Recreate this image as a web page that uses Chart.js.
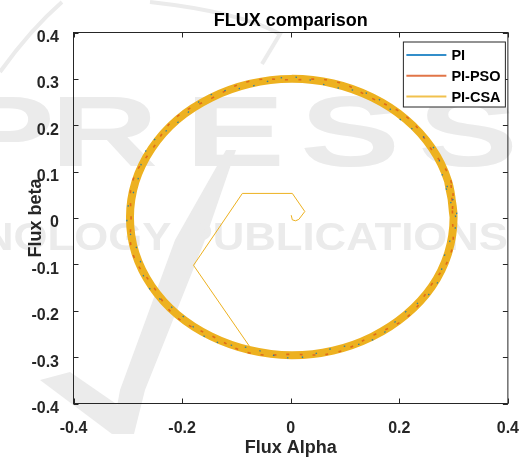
<!DOCTYPE html>
<html>
<head>
<meta charset="utf-8">
<script src="https://cdn.jsdelivr.net/npm/chart.js@4/dist/chart.umd.min.js"></script>
<style>
  html, body { margin: 0; padding: 0; background: #ffffff; }
  #wrap { width: 526px; height: 457px; position: relative; }
</style>
</head>
<body>
<div id="wrap"><canvas id="c" width="526" height="457"></canvas></div>
<script>
// Series names and colours
const seriesNames = ['PI', 'PI-PSO', 'PI-CSA'];
const seriesColors = ['#0072BD', '#D95319', '#EDB120'];
const chartTitle = 'FLUX comparison';

// Axis ticks
const xTickValues = [-0.4, -0.2, 0, 0.2, 0.4];
const xTickLabels = ['-0.4', '-0.2', '0', '0.2', '0.4'];
const yTickValues = [-0.4, -0.3, -0.2, -0.1, 0, 0.1, 0.2, 0.3, 0.4];
const yTickLabels = ['-0.4', '-0.3', '-0.2', '-0.1', '0', '0.1', '0.2', '0.3', '0.4'];

// Steady-state flux orbit, PI controller (wanders across the band)
const piAlpha = [0.304, 0.283, 0.263, 0.207, 0.152, 0.076, 0.001, -0.076, -0.152, -0.207, -0.263, -0.283, -0.302,
                 -0.281, -0.261, -0.205, -0.150, -0.074, 0.002, 0.078, 0.154, 0.209, 0.265, 0.285, 0.306, 0.285];
const piBeta  = [0.002, 0.076, 0.152, 0.207, 0.263, 0.283, 0.304, 0.283, 0.263, 0.207, 0.152, 0.076, 0.001,
                 -0.074, -0.150, -0.205, -0.261, -0.281, -0.302, -0.281, -0.261, -0.205, -0.150, -0.074, 0.002, 0.078];

// Steady-state flux orbit, PI-PSO controller
const psoAlpha = [0.298, 0.295, 0.258, 0.216, 0.150, 0.080, 0.002, -0.076, -0.146, -0.212, -0.254, -0.291, -0.294,
                  -0.291, -0.254, -0.212, -0.146, -0.076, 0.002, 0.080, 0.150, 0.216, 0.258, 0.295, 0.298, 0.295];
const psoBeta  = [0.002, 0.080, 0.150, 0.216, 0.258, 0.295, 0.298, 0.295, 0.258, 0.216, 0.150, 0.080, 0.002,
                  -0.076, -0.146, -0.212, -0.254, -0.291, -0.294, -0.291, -0.254, -0.212, -0.146, -0.076, 0.002, 0.080];

// Steady-state flux orbit, PI-CSA controller
const csaAlpha = [0.300, 0.290, 0.260, 0.212, 0.150, 0.078, 0.001, -0.076, -0.147, -0.209, -0.256, -0.286, -0.296,
                  -0.286, -0.256, -0.209, -0.147, -0.075, 0.001, 0.078, 0.150, 0.212, 0.260, 0.290, 0.300, 0.290];
const csaBeta  = [0.002, 0.079, 0.151, 0.213, 0.260, 0.290, 0.300, 0.289, 0.259, 0.212, 0.150, 0.078, 0.001,
                  -0.076, -0.147, -0.208, -0.255, -0.285, -0.296, -0.286, -0.256, -0.209, -0.148, -0.076, 0.002, 0.079];

// Start-up transient of the PI-CSA flux, from the origin to the orbit
const csaStartAlpha = [0.001, 0.003, 0.009, 0.015, 0.026, 0.003, -0.089, -0.179, -0.071];
const csaStartBeta  = [0.006, -0.004, -0.006, -0.003, 0.014, 0.053, 0.053, -0.102, -0.285];

const toPoints = (xs, ys) => xs.map((x, i) => ({ x: x, y: ys[i] }));

const FONT = '"Liberation Sans", Arial, Helvetica, sans-serif';
const INK = '#262626';

// Faint publisher watermark behind the axes
const watermarkPlugin = {
  id: 'watermark',
  beforeDraw(chart) {
    const ctx = chart.ctx;
    ctx.save();
    ctx.fillStyle = '#ffffff';
    ctx.fillRect(0, 0, chart.width, chart.height);
    const grey = '#ebebeb';
    ctx.fillStyle = grey;
    ctx.strokeStyle = grey;
    // swoosh
    ctx.beginPath();
    ctx.moveTo(226, 150);
    ctx.lineTo(236, 150);
    ctx.lineTo(205, 240);
    ctx.lineTo(145, 390);
    ctx.lineTo(134, 434);
    ctx.lineTo(112, 434);
    ctx.lineTo(120, 390);
    ctx.lineTo(175, 240);
    ctx.closePath();
    ctx.fill();
    ctx.beginPath();
    ctx.moveTo(112, 434);
    ctx.lineTo(40, 380);
    ctx.lineTo(70, 372);
    ctx.lineTo(125, 410);
    ctx.closePath();
    ctx.fill();
    ctx.lineWidth = 4;
    ctx.beginPath();
    ctx.moveTo(0, 72);
    ctx.quadraticCurveTo(30, 30, 62, 2);
    ctx.stroke();
    ctx.beginPath();
    ctx.moveTo(150, 2);
    ctx.quadraticCurveTo(240, 12, 280, 34);
    ctx.lineTo(262, 64);
    ctx.stroke();
    // lettering
    ctx.textBaseline = 'alphabetic';
    ctx.font = 'bold 100px ' + FONT;
    const big = [['P', -45], ['R', 50], ['E', 185], ['S', 300], ['S', 418]];
    big.forEach(([ch, x]) => {
      ctx.save();
      ctx.translate(x, 166);
      ctx.scale(1.5, 1);
      ctx.fillText(ch, 0, 0);
      ctx.restore();
    });
    ctx.font = 'bold 38px ' + FONT;
    ctx.save();
    ctx.translate(508, 250);
    ctx.scale(1.15, 1);
    ctx.textAlign = 'right';
    ctx.fillText('TECHNOLOGY PUBLICATIONS', 0, 0);
    ctx.restore();
    ctx.restore();
  }
};

// Title centred over the axes
const titlePlugin = {
  id: 'axesTitle',
  afterDraw(chart) {
    const { ctx, chartArea: a } = chart;
    ctx.save();
    ctx.font = 'bold 18px ' + FONT;
    ctx.fillStyle = '#000000';
    ctx.textAlign = 'center';
    ctx.textBaseline = 'alphabetic';
    ctx.fillText(chartTitle, (a.left + a.right) / 2, 26);
    ctx.restore();
  }
};

// Axes box with inward tick marks
const boxPlugin = {
  id: 'axesBox',
  afterDatasetsDraw(chart) {
    const { ctx, chartArea: a, scales } = chart;
    ctx.save();
    ctx.strokeStyle = INK;
    ctx.lineWidth = 1;
    ctx.strokeRect(a.left, a.top, a.right - a.left, a.bottom - a.top);
    ctx.beginPath();
    const t = 5;
    scales.x.ticks.forEach(tk => {
      const px = Math.round(scales.x.getPixelForValue(tk.value)) + 0.5;
      ctx.moveTo(px, a.bottom); ctx.lineTo(px, a.bottom - t);
      ctx.moveTo(px, a.top); ctx.lineTo(px, a.top + t);
    });
    scales.y.ticks.forEach(tk => {
      const py = Math.round(scales.y.getPixelForValue(tk.value)) + 0.5;
      ctx.moveTo(a.left, py); ctx.lineTo(a.left + t, py);
      ctx.moveTo(a.right, py); ctx.lineTo(a.right - t, py);
    });
    ctx.stroke();
    ctx.restore();
  }
};

// Boxed legend in the upper right corner of the axes
const legendPlugin = {
  id: 'boxLegend',
  afterDraw(chart) {
    const { ctx, chartArea: a } = chart;
    const w = 102, h = 65;
    const x0 = a.right - 3 - w + 0.5, y0 = a.top + 9 + 0.5;
    ctx.save();
    ctx.fillStyle = '#ffffff';
    ctx.fillRect(x0, y0, w, h);
    ctx.strokeStyle = INK;
    ctx.lineWidth = 1;
    ctx.strokeRect(x0, y0, w, h);
    ctx.font = 'bold 14.5px ' + FONT;
    ctx.textBaseline = 'middle';
    seriesNames.forEach((name, i) => {
      const yy = y0 + 13 + i * 20.8;
      ctx.strokeStyle = seriesColors[i];
      ctx.globalAlpha = 0.8;
      ctx.lineWidth = 2;
      ctx.beginPath();
      ctx.moveTo(x0 + 3, yy); ctx.lineTo(x0 + 43, yy);
      ctx.stroke();
      ctx.globalAlpha = 1;
      ctx.fillStyle = '#000000';
      ctx.fillText(name, x0 + 48, yy + 1);
    });
    ctx.restore();
  }
};

const ringStyle = (color, width, dash, dashOffset) => ({
  showLine: true, pointRadius: 0, borderColor: color, backgroundColor: color,
  borderWidth: width, borderDash: dash, borderDashOffset: dashOffset,
  tension: 0.4, fill: false, borderCapStyle: 'butt'
});

new Chart(document.getElementById('c'), {
  type: 'scatter',
  data: {
    datasets: [
      Object.assign({ label: seriesNames[0], data: toPoints(piAlpha, piBeta), order: 1 },
                    ringStyle('rgba(0,114,189,0.8)', 1.3, [1.5, 13], 0)),
      Object.assign({ label: seriesNames[1], data: toPoints(psoAlpha, psoBeta), order: 2 },
                    ringStyle('rgba(217,83,25,0.75)', 1.6, [3, 10], 5)),
      Object.assign({ label: seriesNames[2], data: toPoints(csaAlpha, csaBeta), order: 3 },
                    ringStyle(seriesColors[2], 8, [], 0)),
      { label: seriesNames[2], data: toPoints(csaStartAlpha, csaStartBeta), order: 0,
        showLine: true, pointRadius: 0, borderColor: seriesColors[2], borderWidth: 1, tension: 0 }
    ]
  },
  options: {
    responsive: false,
    animation: false,
    devicePixelRatio: 1,
    layout: { padding: { top: 32.5, right: 15.5, bottom: 0, left: 0 } },
    plugins: {
      legend: { display: false },
      tooltip: { enabled: false },
      title: { display: false }
    },
    scales: {
      x: {
        type: 'linear', min: -0.4, max: 0.4,
        afterBuildTicks: s => { s.ticks = xTickValues.map(v => ({ value: v })); },
        afterFit: s => { s.height = 53.5; },
        grid: { display: false }, border: { display: false },
        ticks: {
          callback: (v, i) => xTickLabels[i], color: INK, padding: 7, maxRotation: 0,
          font: { family: FONT, size: 16, weight: 'bold' }
        },
        title: {
          display: true, text: 'Flux Alpha', color: INK,
          font: { family: FONT, size: 18, weight: 'bold', lineHeight: 1 },
          padding: { top: 0, bottom: 0 }
        }
      },
      y: {
        type: 'linear', min: -0.4, max: 0.4,
        afterBuildTicks: s => { s.ticks = yTickValues.map(v => ({ value: v })); },
        afterFit: s => { s.width = 73.5; },
        grid: { display: false }, border: { display: false },
        ticks: {
          callback: (v, i) => yTickLabels[i], color: INK, padding: 6.5, labelOffset: 5,
          font: { family: FONT, size: 16, weight: 'bold' }
        },
        title: {
          display: true, text: 'Flux beta', color: INK,
          font: { family: FONT, size: 18, weight: 'bold', lineHeight: 1 },
          padding: { top: 27, bottom: 0 }
        }
      }
    }
  },
  plugins: [watermarkPlugin, boxPlugin, titlePlugin, legendPlugin]
});
</script>
</body>
</html>
